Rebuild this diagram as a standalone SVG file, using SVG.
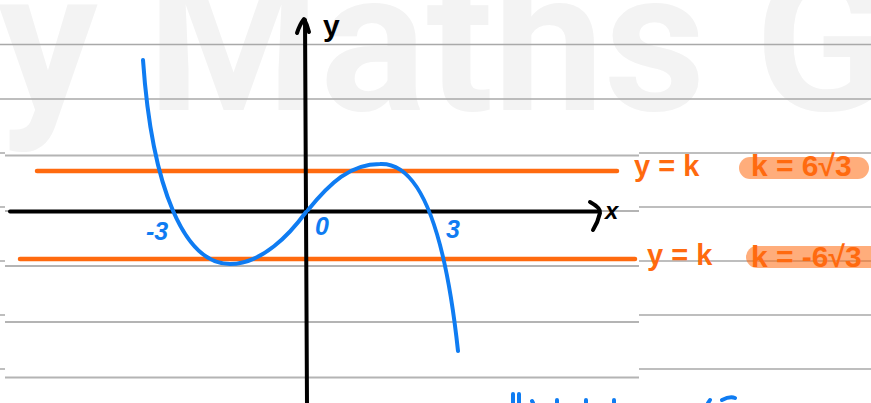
<svg xmlns="http://www.w3.org/2000/svg" width="871" height="403" viewBox="0 0 871 403">
<style>
.wm{font-family:Roboto,"Liberation Sans",sans-serif;font-weight:700;fill:#f3f3f3}
.ruleR{stroke:#a9a9a9;stroke-width:1.6}
.ruleL{stroke:#b4b4b4;stroke-width:2}
.axis{stroke:#000;stroke-width:4;fill:none;stroke-linecap:round;stroke-linejoin:round}
.curve{stroke:#0f7cf2;stroke-width:4;fill:none;stroke-linecap:round}
.hline{stroke:#ff6a0f;stroke-width:4.5;stroke-linecap:round}
.lblB{font-family:"Liberation Sans",Arial,sans-serif;font-weight:700;font-style:italic;fill:#0f7cf2}
.lblK{font-family:"Liberation Sans",Arial,sans-serif;font-weight:700;fill:#000}
.lblO{font-family:"Liberation Sans",Arial,sans-serif;font-weight:700;fill:#ff6a0f}
.pill{fill:#ff6a0f;fill-opacity:0.55}
.marks{stroke:#0f7cf2;stroke-width:4;stroke-linecap:round;fill:none}
</style>
<rect width="871" height="403" fill="#fff"/>
<g id="watermark">
<text class="wm" x="-2" y="110" font-size="198">y Maths G</text>
</g>
<g id="rules">
<line class="ruleR" x1="0" y1="44.5" x2="871" y2="44.5"/>
<line class="ruleR" x1="0" y1="99" x2="871" y2="99"/>
<path class="ruleR" d="M639,153H871M639,207H871M639,261H871M639,315H871M639,369H871M0,153H5M0,207H5M0,261H5M0,315H5M0,369H5"/>
<line class="ruleL" x1="5" y1="155.5" x2="639" y2="155.5"/>
<line class="ruleL" x1="5" y1="211" x2="639" y2="211"/>
<line class="ruleL" x1="5" y1="266" x2="639" y2="266"/>
<line class="ruleL" x1="5" y1="322" x2="639" y2="322"/>
<line class="ruleL" x1="5" y1="377.5" x2="639" y2="377.5"/>
</g>
<g id="connectors">
<line class="hline" x1="37" y1="171" x2="617" y2="171"/>
<line class="hline" x1="20" y1="259" x2="635" y2="259"/>
</g>
<g id="axes">
<line class="axis" x1="10" y1="211.5" x2="599" y2="211.5"/>
<path class="axis" d="M590,202 Q601,208 600,213 Q598,222 593,230"/>
<line class="axis" x1="307" y1="403" x2="305" y2="20"/>
<path class="axis" d="M297,33 Q300,24 304,19 Q307,24 309,32"/>
<text class="lblK" x="605" y="219" font-size="24" font-style="italic">x</text>
<text class="lblK" x="323" y="36" font-size="30">y</text>
</g>
<g id="curve">
<path class="curve" d="M143,60 C152,190 185,264 230,264 C262,264 290,234 306,212"/>
<path class="curve" d="M308,210 C330,183 350,164 380,164 C420,162 445,230 458,351"/>
<text class="lblB" x="146" y="240" font-size="25">-3</text>
<text class="lblB" x="315" y="235" font-size="25">0</text>
<text class="lblB" x="446" y="238" font-size="25">3</text>
</g>
<g id="label-upper">
<text class="lblO" x="634" y="176" font-size="29">y = k</text>
<rect class="pill" x="739" y="157" width="130" height="22" rx="11"/>
<text class="lblO" x="751" y="176" font-size="30">k = 6√3</text>
</g>
<g id="label-lower">
<text class="lblO" x="647" y="265" font-size="29">y = k</text>
<rect class="pill" x="746" y="246" width="135" height="22" rx="11"/>
<text class="lblO" x="751" y="267" font-size="30">k = -6√3</text>
</g>
<g id="bottom-marks">
<path class="marks" d="M513,394 L513,403 M519,394 L519,403 M532,401 L533,403 M557,400 L557,403 M586,400 L586,403 M614,400 L614,403 M710,400 L708,403 M722,400 Q730,396 735,398"/>
</g>
</svg>
